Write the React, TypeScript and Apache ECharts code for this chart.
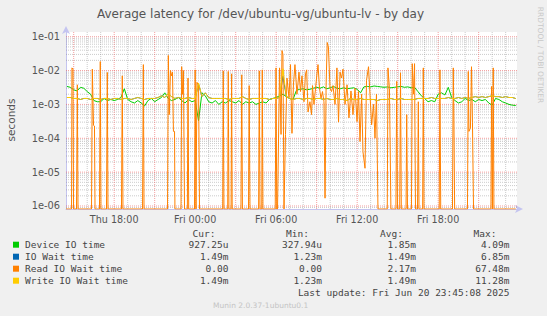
import React, { useEffect, useRef } from 'react';
import * as echarts from 'echarts';

const W = 547;
const H = 316;

// x values are hours since Thu 00:00
const X_MIN = 14.43;
const X_MAX = 47.84;
const Y_MIN = 8.15e-7;
const Y_MAX = 0.1377;

const xTickHours = [18, 24, 30, 36, 42];
const xTickLabels = ['Thu 18:00', 'Fri 00:00', 'Fri 06:00', 'Fri 12:00', 'Fri 18:00'];
const yDecades = [1e-6, 1e-5, 1e-4, 1e-3, 1e-2, 1e-1];

const sampleStart = 14.5; // Thu 14:30
const sampleStepHours = 0.25;

// milliseconds
const deviceIO = [
  3.4, 3.2,
  2.7, 2.5, 3.2, 3.0,
  2.4, 2.0, 1.3, 1.2,
  1.2, 1.5, 1.3, 1.4,
  1.3, 1.4, 1.6, 2.9,
  1.4, 1.2, 1.1, 1.3,
  1.1, 0.9, 1.3, 1.5,
  1.2, 1.4, 1.6, 2.2,
  1.5, 1.3, 1.4, 1.6,
  1.3, 1.1, 1.4, 1.2,
  1.3, 0.33, 2.2, 1.8,
  1.2, 1.1, 1.3, 1.0,
  1.2, 1.1, 1.3, 1.2,
  1.1, 1.3, 1.0, 1.2,
  1.1, 1.2, 1.0, 1.1,
  1.2, 1.1, 1.4, 1.5,
  1.6, 1.8, 2.0, 1.7,
  1.5, 1.4, 2.6, 2.8,
  2.9, 2.7, 2.8, 3.0,
  3.2, 3.0, 3.3, 2.9,
  3.1, 3.4, 3.0, 2.9,
  3.1, 2.9, 3.0, 3.1,
  2.8, 2.2, 3.3, 3.4,
  3.3, 3.5, 3.4, 3.3,
  3.2, 3.3, 3.1, 3.2,
  3.3, 3.4, 3.2, 3.3,
  3.1, 3.2, 2.4, 1.8,
  1.5, 1.2, 1.3, 1.2,
  2.0, 2.2, 1.9, 3.2,
  1.6, 1.3, 1.1, 1.2,
  1.5, 1.3, 1.4, 1.2,
  1.4, 1.3, 1.4, 1.1,
  0.95, 1.5, 1.4, 1.2,
  1.1, 1.0, 0.95, 0.93,
];

const ioWait = [
  1.6, 1.6,
  1.5, 1.5, 1.4, 1.5,
  1.5, 1.4, 1.5, 1.5,
  1.4, 1.5, 1.5, 1.4,
  1.5, 1.5, 1.4, 1.5,
  1.5, 1.4, 1.5, 1.6,
  1.5, 1.4, 1.5, 1.5,
  1.5, 1.6, 1.8, 1.6,
  2.1, 1.7, 1.5, 1.6,
  1.5, 1.5, 1.6, 1.5,
  1.5, 4.0, 1.7, 2.2,
  1.6, 1.5, 1.5, 1.5,
  1.5, 1.5, 1.4, 1.5,
  1.5, 1.5, 1.7, 1.5,
  1.4, 1.5, 1.5, 1.5,
  1.5, 1.5, 1.4, 1.5,
  1.5, 1.6, 6.85, 1.7,
  1.5, 1.4, 1.5, 1.5,
  1.4, 1.5, 1.5, 1.4,
  1.5, 1.5, 1.4, 1.5,
  1.4, 1.4, 1.5, 1.4,
  1.4, 1.3, 1.5, 1.4,
  1.4, 1.5, 1.4, 1.4,
  1.4, 1.4, 1.3, 1.4,
  1.4, 1.4, 1.5, 1.4,
  1.4, 1.5, 1.4, 1.4,
  1.4, 1.4, 1.5, 1.5,
  1.5, 1.5, 1.6, 1.5,
  1.5, 1.5, 1.5, 1.6,
  1.5, 1.5, 1.6, 1.5,
  1.6, 1.5, 1.6, 1.7,
  1.6, 1.7, 1.6, 1.7,
  1.8, 1.7, 1.7, 1.6,
  1.7, 1.6, 1.6, 1.49,
];

const writeIOWait = [
  1.6, 1.6,
  1.5, 1.5, 1.4, 1.5,
  1.5, 1.4, 1.5, 1.5,
  1.4, 1.5, 1.5, 1.4,
  1.5, 1.5, 1.4, 1.5,
  1.5, 1.4, 1.5, 1.6,
  1.5, 1.4, 1.5, 1.5,
  1.5, 1.6, 1.8, 1.6,
  2.1, 1.7, 1.5, 1.6,
  1.5, 1.5, 1.6, 1.5,
  1.5, 4.3, 1.7, 2.2,
  1.6, 1.5, 1.5, 1.5,
  1.5, 1.5, 1.4, 1.5,
  1.5, 1.5, 1.7, 1.5,
  1.4, 1.5, 1.5, 1.5,
  1.5, 1.5, 1.4, 1.5,
  1.5, 1.6, 11.28, 1.7,
  1.5, 1.4, 1.5, 1.5,
  1.4, 1.5, 1.5, 1.4,
  1.5, 1.5, 1.4, 1.5,
  1.4, 1.4, 1.5, 1.4,
  1.4, 1.3, 1.5, 1.4,
  1.4, 1.5, 1.4, 1.4,
  1.4, 1.4, 1.3, 1.4,
  1.4, 1.4, 1.5, 1.4,
  1.4, 1.5, 1.4, 1.4,
  1.4, 1.4, 1.5, 1.5,
  1.5, 1.5, 1.6, 1.5,
  1.5, 1.5, 1.5, 1.6,
  1.5, 1.5, 1.6, 1.5,
  1.6, 1.5, 1.6, 1.7,
  1.6, 1.7, 1.6, 1.7,
  1.8, 1.7, 1.7, 1.6,
  1.7, 1.6, 1.6, 1.49,
];

// Read IO wait: change points (hours since Thu 00:00) and values in seconds
const readIOTimes = [
  14.43, 14.84, 14.87, 14.95, 14.99, 15.21, 15.27, 15.32, 16.32, 16.38,
  16.47, 16.54, 16.58, 16.91, 16.97, 17.02, 17.43, 17.49, 17.54, 18.54,
  18.6, 18.65, 20.1, 20.16, 20.21, 21.95, 22.01, 22.08, 22.17, 22.25,
  22.32, 22.39, 22.47, 22.5, 22.95, 23.0, 23.06, 23.13, 23.21, 23.42,
  23.47, 23.52, 23.95, 24.0, 24.06, 24.13, 24.25, 24.32, 26.04, 26.08,
  26.13, 26.41, 26.45, 26.5, 26.66, 26.7, 26.74, 27.39, 27.45, 27.5,
  27.95, 28.0, 28.06, 28.7, 28.75, 28.8, 28.93, 28.97, 29.02, 29.93,
  29.99, 30.04, 30.1, 30.25, 30.36, 30.43, 30.5, 30.58, 30.69, 30.8,
  30.95, 31.06, 31.17, 31.28, 31.39, 31.54, 31.69, 31.8, 31.91, 32.06,
  32.17, 32.26, 32.36, 32.5, 32.62, 32.69, 32.8, 32.99, 33.1, 33.21,
  33.32, 33.43, 33.54, 33.62, 33.7, 33.78, 33.87, 33.99, 34.1, 34.21,
  34.36, 34.5, 34.62, 34.73, 34.84, 34.95, 35.1, 35.25, 35.39, 35.54,
  35.69, 35.84, 35.99, 36.1, 36.21, 36.33, 36.43, 36.58, 36.69, 36.84,
  36.95, 37.07, 37.21, 37.32, 37.43, 37.54, 38.23, 38.28, 38.39, 38.5,
  38.87, 38.93, 38.99, 39.15, 39.21, 39.27, 39.62, 39.67, 39.73, 40.02,
  40.08, 40.17, 40.25, 40.32, 40.47, 40.53, 40.58, 40.85, 40.9, 40.95,
  42.08, 42.13, 42.19, 43.06, 43.12, 43.17, 43.22, 44.17, 44.23, 44.28,
  44.39, 44.47, 44.54, 44.62, 45.91, 45.96, 46.02, 46.08, 46.13, 47.75,
];
const readIOValues = [
  0, 0, 1.2e-2, 1.1e-2, 0, 0, 3.8e-3, 0, 0, 1.1e-2,
  2.4e-4, 2.3e-4, 0, 0, 1.85e-2, 0, 0, 8.8e-3, 0, 0,
  7e-3, 0, 0, 1.5e-2, 0, 0, 2.8e-2, 5e-4, 1e-2, 7e-3,
  9e-3, 1.6e-4, 1.6e-4, 0, 0, 1.3e-2, 2e-3, 1e-2, 0, 0,
  6e-3, 0, 0, 1.05e-2, 0, 4.5e-3, 3.5e-3, 0, 0, 9.8e-3,
  0, 0, 9.4e-3, 0, 0, 8e-3, 0, 0, 7.5e-3, 0,
  0, 3.6e-3, 0, 0, 9.8e-3, 0, 0, 1.05e-2, 0, 0,
  1.2e-2, 0, 0, 1.2e-2, 1.3e-4, 3.9e-2, 3e-2, 0, 1.3e-4, 6e-3,
  1.6e-3, 1.5e-2, 1.4e-4, 4e-3, 1.5e-2, 2e-3, 9e-3, 2.4e-3, 7e-3, 1.2e-3,
  8e-3, 1.05e-2, 6e-4, 1.2e-3, 5e-4, 3.6e-3, 1e-3, 6e-3, 1.5e-2, 3e-3,
  1.5e-3, 2.4e-3, 1.2e-3, 1.7e-6, 4e-3, 6.75e-2, 5e-2, 3e-3, 2.4e-3, 3.6e-3,
  1e-3, 1.2e-2, 3e-4, 9e-3, 6e-3, 1.1e-2, 1e-3, 3.8e-3, 4e-4, 2.5e-3,
  5e-4, 3e-3, 3.1e-4, 2.4e-3, 8e-5, 2e-3, 4e-5, 1.3e-5, 5e-3, 1.3e-2,
  2e-3, 2.5e-4, 1e-3, 1e-4, 2e-3, 0, 0, 1.2e-2, 3e-3, 0,
  0, 4.8e-3, 0, 0, 8.6e-3, 0, 0, 5e-4, 0, 0,
  1.6e-2, 2e-3, 1.6e-2, 0, 0, 1.2e-3, 0, 0, 1.2e-2, 0,
  0, 1.05e-2, 0, 0, 1.2e-2, 3e-4, 0, 0, 9.4e-3, 1.6e-4,
  2e-4, 1.3e-2, 3e-4, 0, 0, 3.4e-3, 0, 1.2e-2, 0, 0,
];

const legendNames = ['Device IO time', 'IO Wait time', 'Read IO Wait time', 'Write IO Wait time'];
const legendColors = ['#00CC00', '#0066B3', '#FF8000', '#FFCC00'];
const statCur = ['927.25u', '1.49m', '0.00', '1.49m'];
const statMin = ['327.94u', '1.23m', '0.00', '1.23m'];
const statAvg = ['1.85m', '1.49m', '2.17m', '1.49m'];
const statMax = ['4.09m', '6.85m', '67.48m', '11.28m'];

const TITLE = 'Average latency for /dev/ubuntu-vg/ubuntu-lv - by day';
const LAST_UPDATE = 'Last update: Fri Jun 20 23:45:08 2025';
const VERSION = 'Munin 2.0.37-1ubuntu0.1';

export default function App() {
  const ref = useRef<HTMLDivElement>(null);

  useEffect(() => {
    if (!ref.current) return;
    const chart = echarts.init(ref.current, null, { renderer: 'svg', width: W, height: H });

    const times = deviceIO.map((_, i) => sampleStart + i * sampleStepHours);
    const msPairs = (arr: number[]) => arr.map((v, i) => [times[i], v * 1e-3]);
    // zero cannot be shown on a log axis: rrdtool draws it at the bottom edge
    const readPairs = readIOTimes.map((h, i) => [h, Math.max(readIOValues[i], Y_MIN)]);

    // grid lines as broken polylines (null separates segments)
    const minorGrid: any[] = [];
    const majorGrid: any[] = [];
    for (let e = -7; e <= -1; e++) {
      for (let k = 2; k <= 9; k++) {
        const v = k * Math.pow(10, e);
        if (v > Y_MIN && v < Y_MAX) minorGrid.push([X_MIN, v], [X_MAX, v], null);
      }
    }
    for (let h = Math.ceil(X_MIN); h <= X_MAX; h++) {
      const target = h % 3 === 0 ? majorGrid : minorGrid;
      target.push([h, Y_MIN], [h, Y_MAX], null);
    }
    yDecades.forEach((v) => majorGrid.push([X_MIN, v], [X_MAX, v], null));

    const labelFont = 'DejaVu Sans';
    const mono = '"DejaVu Sans Mono"';
    const legendGraphics: any[] = [];
    const rowY = [244.7, 256.7, 268.7, 280.7];
    const colEnds = [228.5, 322, 416, 509.5];
    const headers = ['Cur:', 'Min:', 'Avg:', 'Max:'];
    headers.forEach((t, i) => {
      legendGraphics.push({
        type: 'text', silent: true,
        style: { text: t, x: colEnds[i] - 13, y: 233, textAlign: 'right', textVerticalAlign: 'middle', font: `9.5px ${mono}`, fill: '#444' },
      });
    });
    legendNames.forEach((name, r) => {
      legendGraphics.push({
        type: 'rect', silent: true,
        shape: { x: 13, y: rowY[r] - 3, width: 6, height: 6 },
        style: { fill: legendColors[r] },
      });
      legendGraphics.push({
        type: 'text', silent: true,
        style: { text: name, x: 25, y: rowY[r], textAlign: 'left', textVerticalAlign: 'middle', font: `9.5px ${mono}`, fill: '#444' },
      });
      [statCur, statMin, statAvg, statMax].forEach((col, c) => {
        legendGraphics.push({
          type: 'text', silent: true,
          style: { text: col[r], x: colEnds[c], y: rowY[r], textAlign: 'right', textVerticalAlign: 'middle', font: `9.5px ${mono}`, fill: '#444' },
        });
      });
    });
    legendGraphics.push({
      type: 'text', silent: true,
      style: { text: LAST_UPDATE, x: 509.5, y: 292.3, textAlign: 'right', textVerticalAlign: 'middle', font: `9.5px ${mono}`, fill: '#444' },
    });

    const lineSeries = (name: string, data: any[], color: string, z: number) => ({
      name, type: 'line', z, data, showSymbol: false, symbol: 'none', silent: true,
      lineStyle: { color, width: 1 }, itemStyle: { color },
    });

    const option: any = {
      animation: false,
      backgroundColor: '#F0F0F0',
      grid: {
        left: 66, right: 30, top: 32, bottom: 107,
        show: true, backgroundColor: '#FFFFFF', borderWidth: 0,
      },
      xAxis: {
        type: 'value',
        min: X_MIN,
        max: X_MAX,
        splitLine: { show: false },
        axisTick: { show: false },
        axisLine: {
          show: true, onZero: false,
          lineStyle: { color: '#C4C4F0', width: 1 },
          symbol: ['none', 'arrow'], symbolSize: [6, 8], symbolOffset: [0, 6],
        },
        axisLabel: {
          customValues: xTickHours,
          margin: 5,
          color: '#555',
          fontFamily: labelFont,
          fontSize: 9.6,
          formatter: (v: number) => {
            const i = xTickHours.indexOf(Math.round(v));
            return i >= 0 ? xTickLabels[i] : '';
          },
        },
      },
      yAxis: {
        type: 'log',
        logBase: 10,
        min: Y_MIN,
        max: Y_MAX,
        splitLine: { show: false },
        minorSplitLine: { show: false },
        axisTick: { show: false },
        axisLine: {
          show: true,
          lineStyle: { color: '#C4C4F0', width: 1 },
          symbol: ['none', 'arrow'], symbolSize: [6, 8], symbolOffset: [0, 6],
        },
        axisLabel: {
          margin: 6,
          color: '#555',
          fontFamily: labelFont,
          fontSize: 9.8,
          showMinLabel: false,
          showMaxLabel: false,
          formatter: (v: number) => {
            const e = Math.log10(v);
            const r = Math.round(e);
            if (Math.abs(e - r) > 1e-6) return '';
            return `1e${r < 0 ? '-' : '+'}${String(Math.abs(r)).padStart(2, '0')}`;
          },
        },
      },
      series: [
        {
          type: 'line', z: 1, silent: true, data: minorGrid, connectNulls: false,
          showSymbol: false, symbol: 'none',
          lineStyle: { color: 'rgba(140,140,140,0.45)', width: 1, type: [1, 1] },
        },
        {
          type: 'line', z: 1, silent: true, data: majorGrid, connectNulls: false,
          showSymbol: false, symbol: 'none',
          lineStyle: { color: 'rgba(235,80,80,0.55)', width: 1, type: [1, 1] },
        },
        lineSeries(legendNames[0], msPairs(deviceIO), legendColors[0], 2),
        lineSeries(legendNames[1], msPairs(ioWait), legendColors[1], 3),
        lineSeries(legendNames[2], readPairs, legendColors[2], 4),
        lineSeries(legendNames[3], msPairs(writeIOWait), legendColors[3], 5),
      ],
      graphic: [
        {
          type: 'text', silent: true,
          style: { text: TITLE, x: 260.5, y: 13.5, textAlign: 'center', textVerticalAlign: 'middle', font: `12px ${labelFont}`, fill: '#555' },
        },
        {
          type: 'text', silent: true, x: 11, y: 120, rotation: Math.PI / 2,
          style: { text: 'seconds', x: 0, y: 0, textAlign: 'center', textVerticalAlign: 'middle', font: `10.5px ${labelFont}`, fill: '#555' },
        },
        {
          type: 'text', silent: true, x: 540, y: 55, rotation: -Math.PI / 2,
          style: { text: 'RRDTOOL / TOBI OETIKER', x: 0, y: 0, textAlign: 'center', textVerticalAlign: 'middle', font: `7.5px ${labelFont}`, fill: '#C8C8C8' },
        },
        {
          type: 'text', silent: true,
          style: { text: VERSION, x: 260.7, y: 305.7, textAlign: 'center', textVerticalAlign: 'middle', font: `7.5px ${labelFont}`, fill: '#C4C4C4' },
        },
        ...legendGraphics,
      ],
    };

    chart.setOption(option);
    return () => chart.dispose();
  }, []);

  return (
    <div
      ref={ref}
      style={{ position: 'fixed', left: 0, top: 0, width: W, height: H, background: '#F0F0F0' }}
    />
  );
}
